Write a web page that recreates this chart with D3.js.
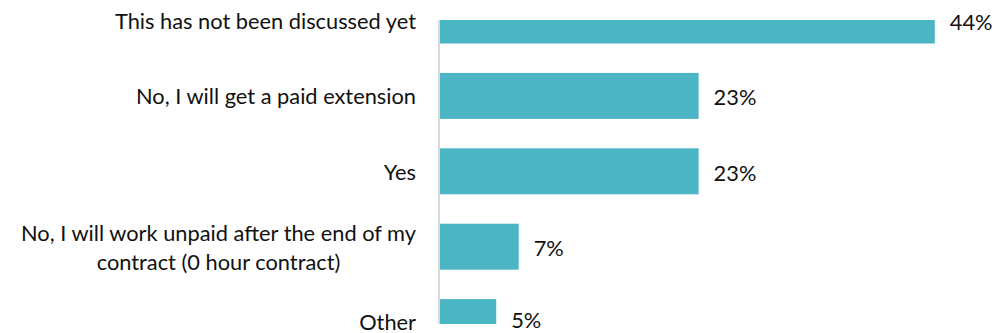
<!DOCTYPE html>
<html>
<head>
<meta charset="utf-8">
<script src="https://cdn.jsdelivr.net/npm/d3@7"></script>
<style>
  html, body { margin: 0; padding: 0; background: #ffffff; }
  svg { display: block; }
  text { font-family: Lato, "Open Sans", sans-serif; fill: #111111; }
</style>
</head>
<body>
<svg id="chart" width="999" height="333"></svg>
<script>
// Survey answers, top to bottom; multi-line labels split into lines
const categories = [
  ["This has not been discussed yet"],
  ["No, I will get a paid extension"],
  ["Yes"],
  ["No, I will work unpaid after the end of my", "contract (0 hour contract)"],
  ["Other"]
];
const values = [44, 23, 23, 7, 5];
const valueLabels = ["44%", "23%", "23%", "7%", "5%"];

const W = 999, H = 333;
const svg = d3.select("#chart");

const keys = categories.map(c => c.join(" "));

const x = d3.scaleLinear().domain([0, 44.2]).range([440, 937]);
const y = d3.scaleBand().domain(keys).range([-31.9, 374.5]).padding(0.39);

// plot area clip
svg.append("defs").append("clipPath").attr("id", "plot")
  .append("rect").attr("x", 0).attr("y", 20).attr("width", W).attr("height", 304);

const rows = categories.map((c, i) => ({ key: keys[i], lines: c, v: values[i], lab: valueLabels[i] }));

svg.append("g").attr("clip-path", "url(#plot)")
  .selectAll("rect").data(rows).join("rect")
  .attr("x", x(0))
  .attr("y", d => y(d.key))
  .attr("width", d => x(d.v) - x(0))
  .attr("height", y.bandwidth())
  .attr("fill", "#4BB5C4");

// category axis line
svg.append("line")
  .attr("x1", x(0) - 1).attr("x2", x(0) - 1)
  .attr("y1", 20).attr("y2", 324)
  .attr("stroke", "#d9d9d9").attr("stroke-width", 2);

// category labels
const fs = 21.8, lh = 29;
rows.forEach(d => {
  const cy = Math.min(y(d.key) + y.bandwidth() / 2, 321);
  const n = d.lines.length;
  const t = svg.append("text")
    .attr("font-size", fs)
    .attr("dominant-baseline", "central");
  if (n === 1) {
    t.attr("text-anchor", "end").attr("x", 416).attr("y", cy).text(d.lines[0]);
  } else {
    // centred block whose widest line ends at the label edge
    const tmp = svg.append("text").attr("font-size", fs).text(d.lines[0]);
    const w = tmp.node().getComputedTextLength();
    tmp.remove();
    const cx = 416 - w / 2;
    t.attr("text-anchor", "middle");
    d.lines.forEach((ln, j) => {
      t.append("tspan").attr("x", cx).attr("y", cy + (j - (n - 1) / 2) * lh).text(ln);
    });
  }
});

// value labels
svg.append("g").selectAll("text").data(rows).join("text")
  .attr("x", d => x(d.v) + 15)
  .attr("y", d => Math.min(y(d.key) + y.bandwidth() / 2 + 1, 319))
  .attr("dominant-baseline", "central")
  .attr("font-size", fs)
  .text(d => d.lab);
</script>
</body>
</html>
